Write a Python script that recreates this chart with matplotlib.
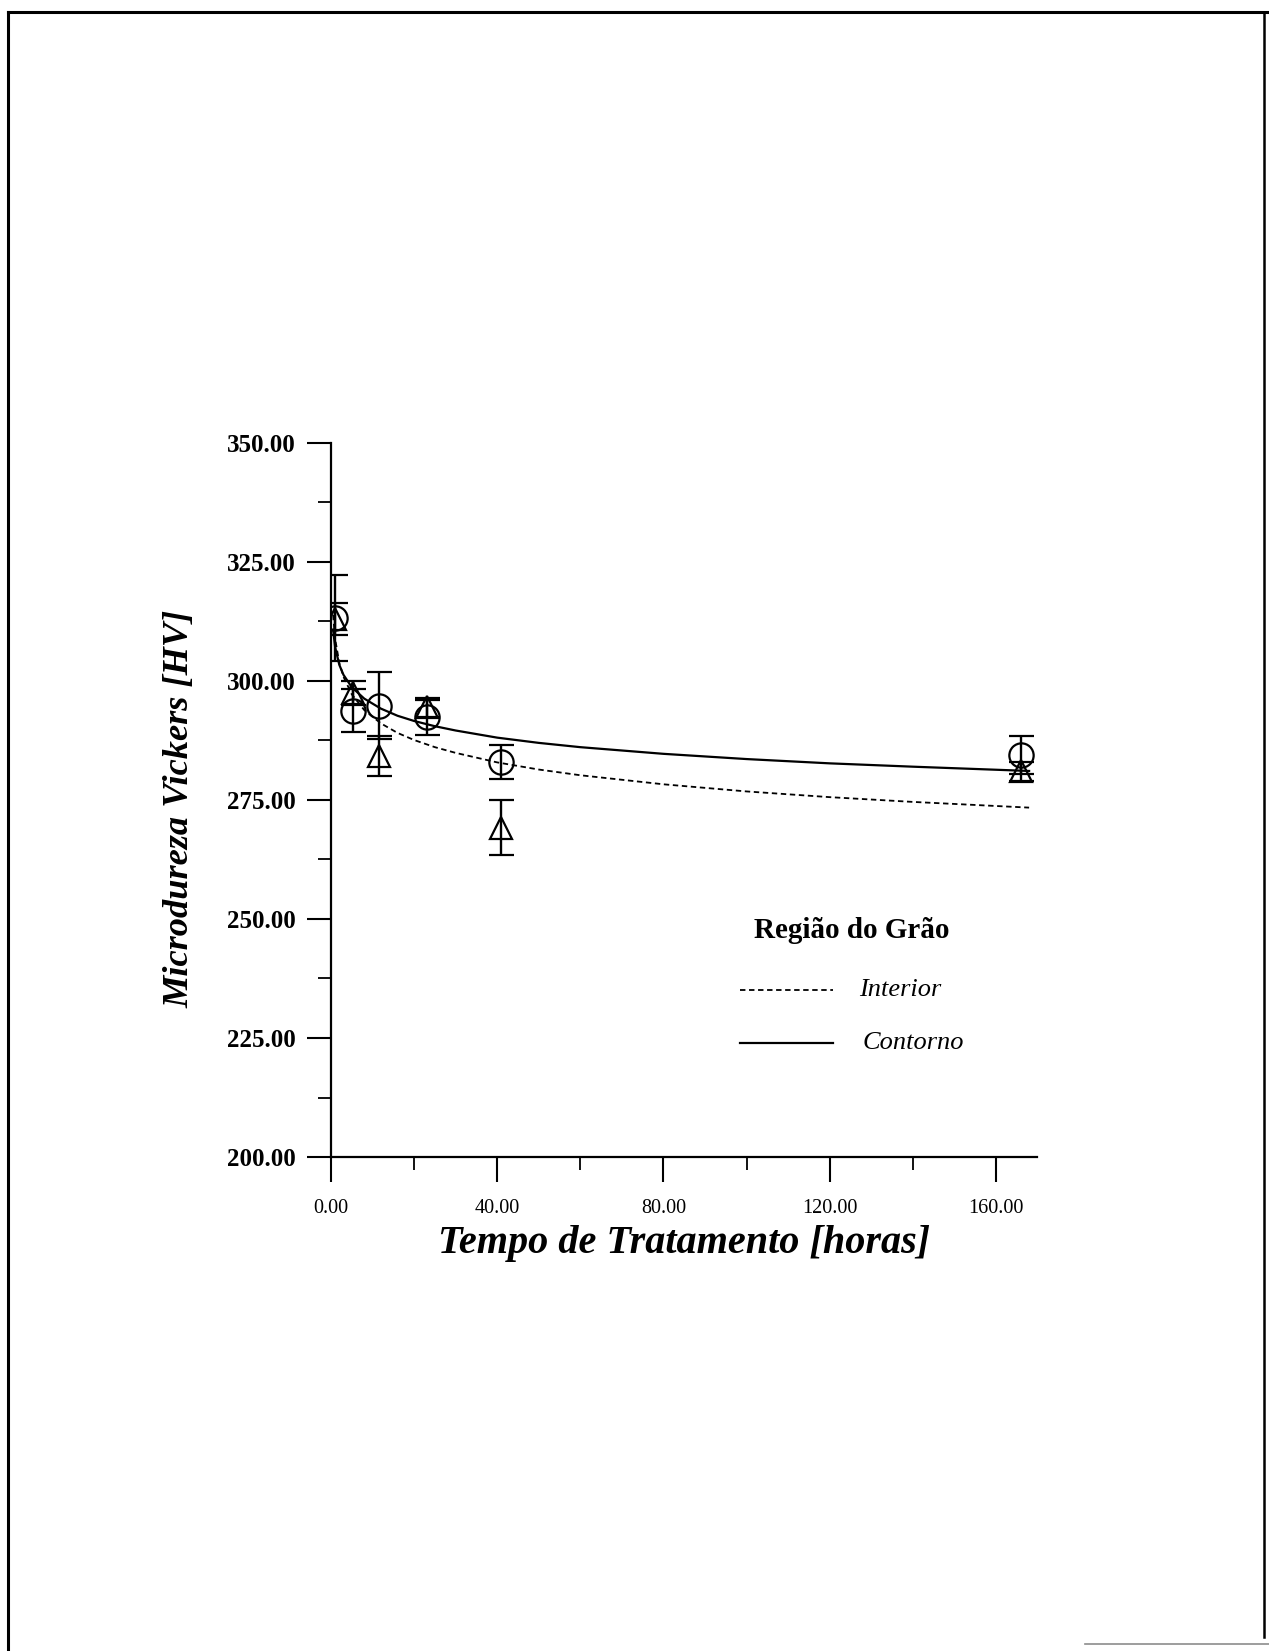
import matplotlib
matplotlib.use("Agg")
import matplotlib.pyplot as plt
from matplotlib.lines import Line2D
from matplotlib.ticker import MultipleLocator, FormatStrFormatter

plt.rcParams['font.family'] = ['Liberation Serif', 'DejaVu Serif']

# Measured microhardness (mean and half-width of the error bar)
t_meas = [1.0, 5.3, 11.5, 23.0, 41.0, 166.0]
hv_interior = [313.0, 297.5, 284.3, 294.5, 269.2, 281.0]
err_interior = [3.3, 2.5, 4.2, 2.0, 5.8, 2.0]
hv_contorno = [313.2, 293.8, 294.8, 292.4, 283.0, 284.5]
err_contorno = [9.1, 4.5, 7.0, 3.7, 3.5, 4.0]

# Fitted trend curves
t_curve = [0.5, 1, 2, 3, 5, 8, 12, 16, 20, 25, 30, 40, 50, 60, 80, 100, 120, 140, 168]
fit_contorno = [310.8, 307.1, 303.4, 301.3, 298.7, 296.3, 294.2, 292.7, 291.6, 290.5,
                289.6, 288.1, 287.0, 286.1, 284.7, 283.6, 282.7, 282.0, 281.1]
fit_interior = [313.9, 308.8, 303.8, 300.9, 297.2, 293.9, 291.1, 289.1, 287.6, 286.1,
                284.9, 282.9, 281.4, 280.2, 278.3, 276.8, 275.6, 274.6, 273.4]

x_ticks = [0, 40, 80, 120, 160]
y_ticks = [200, 225, 250, 275, 300, 325, 350]

W, H = 1269, 1651
fig = plt.figure(figsize=(W / 100, H / 100), dpi=100)
fig.patch.set_facecolor('white')

def fx(px):
    return px / W

def fy(py):
    return 1 - py / H

ax_left, ax_right, ax_top, ax_bottom = 331, 1037, 443, 1157
ax = fig.add_axes([fx(ax_left), fy(ax_bottom), (ax_right - ax_left) / W, (ax_bottom - ax_top) / H])
ax.set_xlim(0, 169.9)
ax.set_ylim(200, 350)
ax.patch.set_alpha(0)

for s in ['top', 'right']:
    ax.spines[s].set_visible(False)
for s in ['left', 'bottom']:
    ax.spines[s].set_linewidth(1.6)
    ax.spines[s].set_color('black')

ax.set_xticks(x_ticks)
ax.set_yticks(y_ticks)
ax.xaxis.set_minor_locator(MultipleLocator(20))
ax.yaxis.set_minor_locator(MultipleLocator(12.5))
ax.xaxis.set_major_formatter(FormatStrFormatter('%.2f'))
ax.yaxis.set_major_formatter(FormatStrFormatter('%.2f'))
ax.tick_params(axis='both', which='major', direction='out', width=1.5, color='black')
ax.tick_params(axis='y', which='major', length=17.3, pad=8, labelsize=18)
ax.tick_params(axis='x', which='major', length=18, pad=12, labelsize=14.5)
ax.tick_params(axis='both', which='minor', direction='out', length=9.4, width=1.3)
for lab in ax.get_yticklabels():
    lab.set_fontweight('bold')

# Trend curves
ax.plot(t_curve, fit_interior, color='black', lw=1.3, ls=(0, (3, 2)))
ax.plot(t_curve, fit_contorno, color='black', lw=1.6, ls='-')

# Measurements with error bars
ax.errorbar(t_meas, hv_interior, yerr=err_interior, fmt='^', ms=16, mfc='none',
            mec='black', mew=1.6, ecolor='black', elinewidth=1.7, capsize=9, capthick=1.7)
ax.errorbar(t_meas, hv_contorno, yerr=err_contorno, fmt='o', ms=17.5, mfc='none',
            mec='black', mew=1.6, ecolor='black', elinewidth=1.7, capsize=9, capthick=1.7)

ax.set_xlabel('Tempo de Tratamento [horas]', fontsize=29, fontweight='bold',
              fontstyle='italic', va='center')
ax.xaxis.set_label_coords((684.5 - ax_left) / (ax_right - ax_left),
                          (ax_bottom - 1244) / (ax_bottom - ax_top))
ax.set_ylabel('Microdureza Vickers [HV]', fontsize=26.2, fontweight='bold',
              fontstyle='italic', va='center', ha='center')
ax.yaxis.set_label_coords((180 - ax_left) / (ax_right - ax_left),
                          (ax_bottom - 808.5) / (ax_bottom - ax_top))

# Legend block
fig.text(fx(852), fy(930), 'Região do Grão', fontsize=21, fontweight='bold',
         ha='center', va='center')
fig.add_artist(Line2D([fx(740), fx(833)], [fy(990), fy(990)], color='black', lw=1.3,
                      ls=(0, (3, 2)), transform=fig.transFigure))
fig.text(fx(859), fy(990), 'Interior', fontsize=19, fontstyle='italic', ha='left', va='center')
fig.add_artist(Line2D([fx(740), fx(833)], [fy(1043), fy(1043)], color='black', lw=1.6,
                      transform=fig.transFigure))
fig.text(fx(863), fy(1043), 'Contorno', fontsize=19, fontstyle='italic', ha='left', va='center')

# Page frame
fig.add_artist(Line2D([fx(8), fx(8)], [fy(12), fy(1651)], color='black', lw=2.2,
                      transform=fig.transFigure))
fig.add_artist(Line2D([fx(8), fx(1269)], [fy(12), fy(12)], color='black', lw=2.2,
                      transform=fig.transFigure))
fig.add_artist(Line2D([fx(1264), fx(1264)], [fy(12), fy(1637)], color='black', lw=1.8,
                      transform=fig.transFigure))
fig.add_artist(Line2D([fx(1085), fx(1269)], [fy(1644), fy(1644)], color='0.55', lw=1.2,
                      transform=fig.transFigure))

fig.savefig('out.png', dpi=100, facecolor='white')
